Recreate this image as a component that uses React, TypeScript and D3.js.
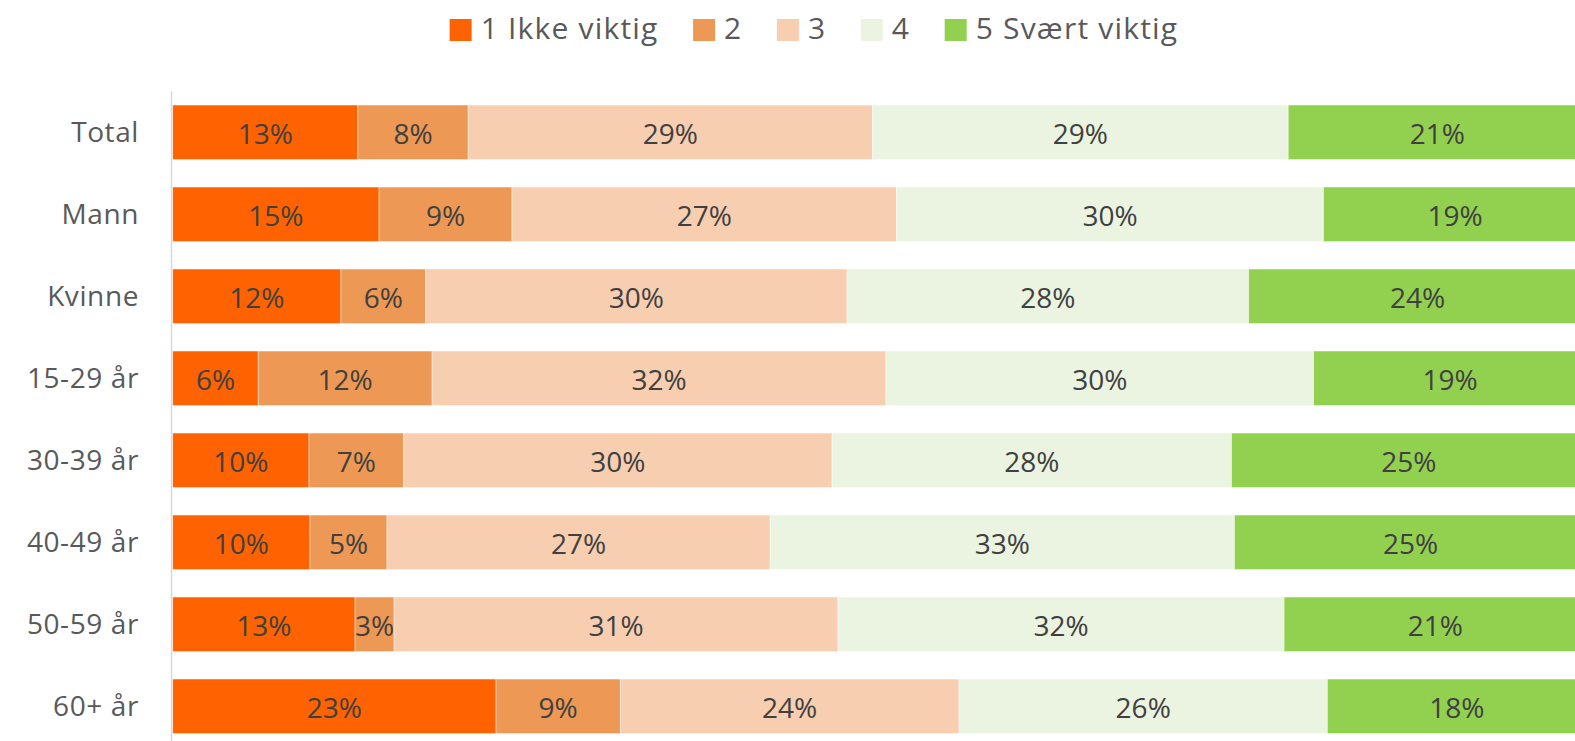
import React, { useEffect, useRef } from "react";
import * as d3 from "d3";

// rows of the chart (top to bottom)
const categories = ["Total", "Mann", "Kvinne", "15-29 år", "30-39 år", "40-49 år", "50-59 år", "60+ år"];
const seriesNames = ["1 Ikke viktig", "2", "3", "4", "5 Svært viktig"];

// shares in percent
const ikkeViktig = [13.1, 14.6, 11.9, 6.05, 9.64, 9.71, 12.9, 22.87];
const to = [7.8, 9.4, 6.0, 12.3, 6.7, 5.45, 2.76, 8.79];
const tre = [28.6, 27.2, 29.8, 32.1, 30.3, 27.1, 31.4, 23.96];
const fire = [29.4, 30.2, 28.4, 30.25, 28.25, 32.84, 31.55, 26.05];
const svaertViktig = [21.1, 18.6, 23.9, 19.3, 25.1, 24.9, 21.4, 18.33];

const colors = ["#FF6200", "#ED9854", "#F8CEB0", "#EBF4E0", "#92D050"];

const FONT = "'Open Sans', sans-serif";

const App = () => {
  const svgRef = useRef<SVGSVGElement>(null);

  useEffect(() => {
    const width = 1575;
    const height = 741;
    const svg = d3.select(svgRef.current).attr("width", width).attr("height", height);
    svg.selectAll("*").remove();

    // build table for the stack
    const columns = [ikkeViktig, to, tre, fire, svaertViktig];
    const table = categories.map((c, i) => {
      const row: any = { cat: c };
      seriesNames.forEach((s, k) => (row[s] = columns[k][i]));
      return row;
    });
    const stacked = d3.stack().keys(seriesNames)(table);

    // the bars run a bit past the right edge (chart is cropped)
    const x = d3.scaleLinear().domain([0, 100]).range([172.7, 1586.5]);
    const y = d3
      .scaleBand()
      .domain(categories)
      .range([91.3, 747.3])
      .paddingInner(0.335)
      .paddingOuter(0.1675);

    // bars
    const layers = svg
      .append("g")
      .selectAll("g")
      .data(stacked)
      .join("g")
      .attr("fill", (d, i) => colors[i]);

    layers
      .selectAll("rect")
      .data(d => d)
      .join("rect")
      .attr("x", d => x(d[0]))
      .attr("y", d => y(d.data.cat))
      .attr("width", d => x(d[1]) - x(d[0]))
      .attr("height", y.bandwidth())
      .attr("stroke", "#fff")
      .attr("stroke-opacity", 0.6)
      .attr("stroke-width", 0.75);

    // data labels
    layers
      .selectAll("text")
      .data(d => d)
      .join("text")
      .attr("x", d => (x(d[0]) + x(d[1])) / 2)
      .attr("y", d => y(d.data.cat) + y.bandwidth() / 2 + 11.5)
      .attr("text-anchor", "middle")
      .attr("font-family", FONT)
      .attr("font-size", 28)
      .attr("fill", "#404040")
      .text(d => `${Math.round(d[1] - d[0])}%`);

    // vertical axis line
    svg
      .append("line")
      .attr("x1", 171.5)
      .attr("x2", 171.5)
      .attr("y1", 91)
      .attr("y2", height)
      .attr("stroke", "#d9d9d9")
      .attr("stroke-width", 1.5);

    // category labels
    svg
      .append("g")
      .selectAll("text")
      .data(categories)
      .join("text")
      .attr("x", 139)
      .attr("y", d => y(d) + y.bandwidth() / 2 + 9.5)
      .attr("text-anchor", "end")
      .attr("font-family", FONT)
      .attr("font-size", 28)
      .attr("letter-spacing", 0.6)
      .attr("fill", "#595959")
      .text(d => d);

    // legend, centred over the plot
    const legend = svg.append("g");
    const items = legend
      .selectAll("g")
      .data(seriesNames)
      .join("g");
    items
      .append("rect")
      .attr("y", 19)
      .attr("width", 22)
      .attr("height", 22)
      .attr("fill", (d, i) => colors[i]);
    const labels = items
      .append("text")
      .attr("x", 31)
      .attr("y", 39)
      .attr("font-family", FONT)
      .attr("font-size", 30)
      .attr("letter-spacing", 1.2)
      .attr("fill", "#595959")
      .text(d => d);

    const widths = labels.nodes().map(n => (n as SVGTextElement).getComputedTextLength());
    const gap = 34.5;
    const total = d3.sum(widths, w => 31 + w) + gap * (widths.length - 1);
    let cx = 814 - total / 2;
    items.attr("transform", (d, i) => {
      const t = `translate(${cx},0)`;
      cx += 31 + widths[i] + gap;
      return t;
    });
  }, []);

  return (
    <svg ref={svgRef} style={{ position: "absolute", left: 0, top: 0, background: "#fff" }} />
  );
};

export default App;
